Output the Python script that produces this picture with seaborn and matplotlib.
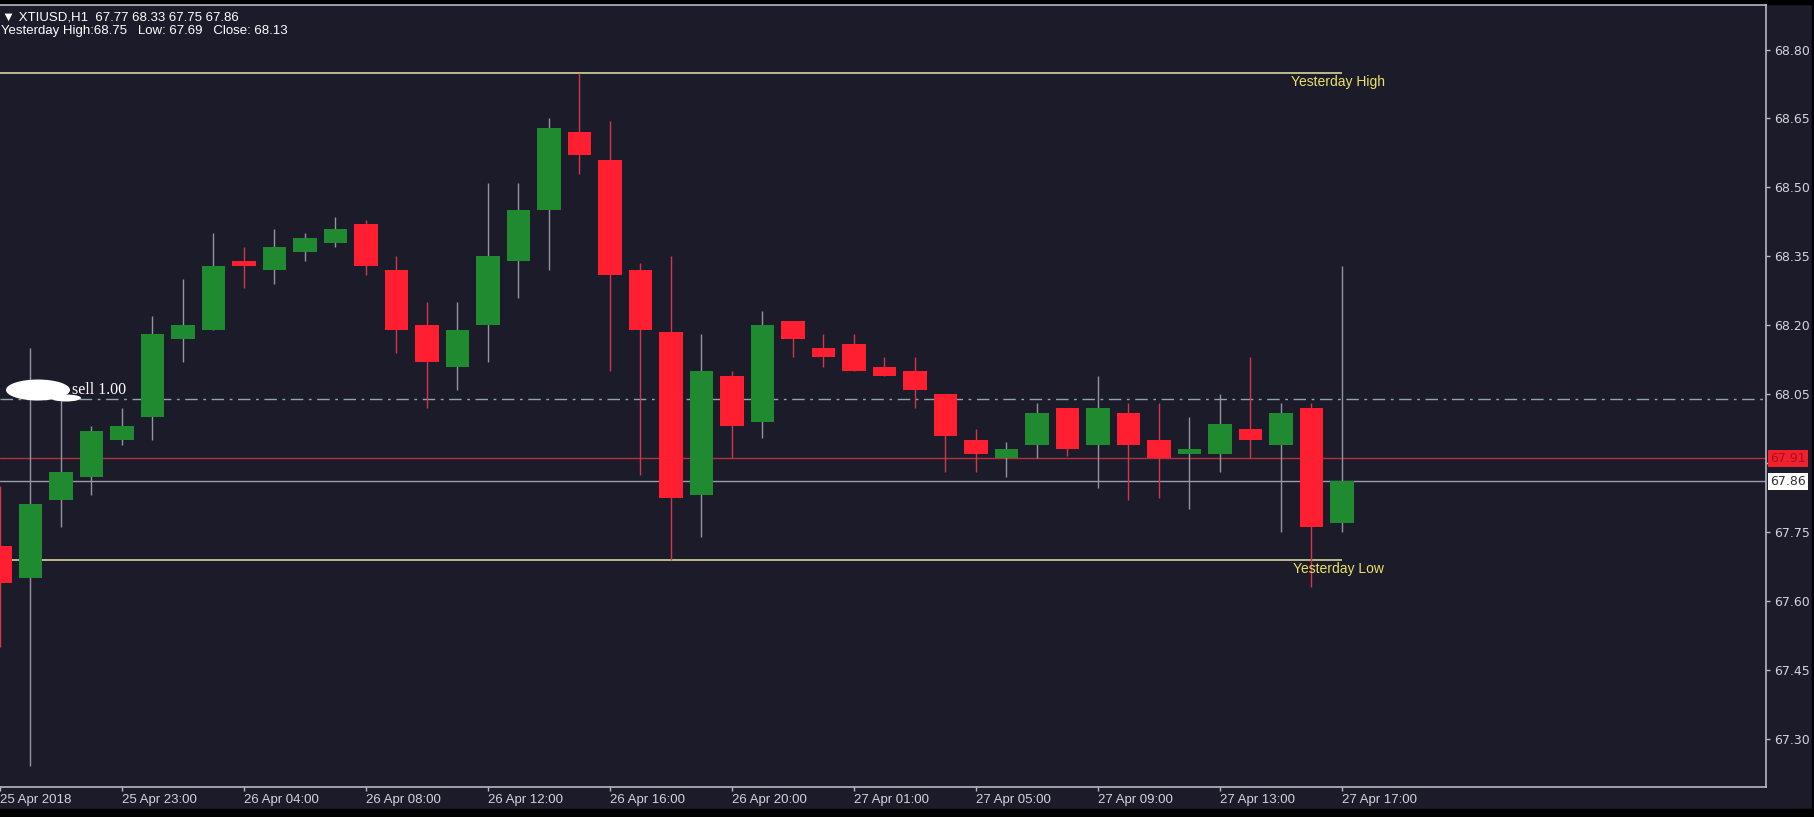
import numpy as np
import pandas as pd
import matplotlib
matplotlib.use("Agg")
import matplotlib.pyplot as plt
import matplotlib.transforms as mtransforms
from matplotlib.patches import Ellipse, Rectangle
import seaborn as sns

# ---------------- data ----------------
bar_labels = ["25 Apr 2018", "25 Apr 20:00", "25 Apr 21:00", "25 Apr 22:00", "25 Apr 23:00",
              "26 Apr 01:00", "26 Apr 02:00", "26 Apr 03:00", "26 Apr 04:00", "26 Apr 05:00",
              "26 Apr 06:00", "26 Apr 07:00", "26 Apr 08:00", "26 Apr 09:00", "26 Apr 10:00",
              "26 Apr 11:00", "26 Apr 12:00", "26 Apr 13:00", "26 Apr 14:00", "26 Apr 15:00",
              "26 Apr 16:00", "26 Apr 17:00", "26 Apr 18:00", "26 Apr 19:00", "26 Apr 20:00",
              "26 Apr 21:00", "26 Apr 22:00", "26 Apr 23:00", "27 Apr 01:00", "27 Apr 02:00",
              "27 Apr 03:00", "27 Apr 04:00", "27 Apr 05:00", "27 Apr 06:00", "27 Apr 07:00",
              "27 Apr 08:00", "27 Apr 09:00", "27 Apr 10:00", "27 Apr 11:00", "27 Apr 12:00",
              "27 Apr 13:00", "27 Apr 14:00", "27 Apr 15:00", "27 Apr 16:00", "27 Apr 17:00"]

opens = [67.72, 67.65, 67.82, 67.87, 67.95, 68.00, 68.17, 68.19, 68.34, 68.32,
         68.36, 68.38, 68.42, 68.32, 68.20, 68.11, 68.20, 68.34, 68.45, 68.62,
         68.56, 68.32, 68.185, 67.83, 68.09, 67.99, 68.21, 68.15, 68.16, 68.11,
         68.10, 68.05, 67.95, 67.91, 67.94, 68.02, 67.94, 68.01, 67.95, 67.92,
         67.92, 67.975, 67.94, 68.02, 67.77]
highs = [67.85, 68.15, 68.04, 67.98, 68.02, 68.22, 68.30, 68.40, 68.37, 68.41,
         68.40, 68.435, 68.43, 68.35, 68.25, 68.25, 68.51, 68.51, 68.65, 68.75,
         68.645, 68.335, 68.35, 68.18, 68.10, 68.23, 68.21, 68.18, 68.18, 68.13,
         68.13, 68.05, 67.975, 67.945, 68.03, 68.02, 68.09, 68.03, 68.03, 68.00,
         68.05, 68.13, 68.03, 68.03, 68.33]
lows = [67.50, 67.24, 67.76, 67.83, 67.94, 67.95, 68.12, 68.19, 68.28, 68.29,
        68.34, 68.37, 68.31, 68.14, 68.02, 68.06, 68.12, 68.26, 68.32, 68.53,
        68.10, 67.875, 67.69, 67.74, 67.91, 67.955, 68.13, 68.11, 68.10, 68.09,
        68.02, 67.88, 67.88, 67.87, 67.91, 67.915, 67.845, 67.82, 67.825, 67.80,
        67.88, 67.91, 67.75, 67.63, 67.75]
closes = [67.64, 67.81, 67.88, 67.97, 67.98, 68.18, 68.20, 68.33, 68.33, 68.37,
          68.39, 68.41, 68.33, 68.19, 68.12, 68.19, 68.35, 68.45, 68.63, 68.57,
          68.31, 68.19, 67.825, 68.10, 67.98, 68.20, 68.17, 68.13, 68.10, 68.09,
          68.06, 67.96, 67.92, 67.93, 68.01, 67.93, 68.02, 67.94, 67.91, 67.93,
          67.985, 67.95, 68.01, 67.76, 67.86]

price_ticks = [68.80, 68.65, 68.50, 68.35, 68.20, 68.05, 67.90, 67.75, 67.60, 67.45, 67.30]
hidden_tick = 67.90  # covered by the ask tag in the reference

yesterday_high = 68.75
yesterday_low = 67.69
yesterday_close = 68.13
order_price = 68.04
ask_price = 67.91
bid_price = 67.86
header_line1 = "\u25bc XTIUSD,H1  67.77 68.33 67.75 67.86"
header_line2 = "Yesterday High:68.75   Low: 67.69   Close: 68.13"
order_label = "sell 1.00"

# ---------------- style ----------------
BG = "#1b1b2a"
GREEN = "#1f8a30"
RED = "#ff1f30"
WICK_UP = "#9494a0"
WICK_DN = "#d0384a"
YLINE = "#d8d69c"
YTEXT = "#ece268"
AXC = "#b8b8c2"
TXT = "#d4d4dc"

sns.set_theme(style="dark", rc={"axes.facecolor": BG, "figure.facecolor": BG,
                                "axes.edgecolor": AXC, "grid.color": BG})
plt.rcParams['font.family'] = ['Liberation Sans', 'DejaVu Sans']

W, H = 1815, 817
fig = plt.figure(figsize=(W / 100, H / 100), dpi=100)
ax = fig.add_axes([0, 1 - 787 / H, 1766 / W, 782 / H])
ax.set_facecolor(BG)

df = pd.DataFrame({"label": bar_labels, "open": opens, "high": highs,
                   "low": lows, "close": closes})
df["x"] = np.arange(len(df))
df["up"] = df["close"] >= df["open"]

# reference lines (behind candles)
ax.axhline(order_price, color="#8ea6aa", lw=1.0, ls=(0, (9, 4, 2, 4)), zorder=1)
ax.axhline(ask_price, color="#b3303e", lw=1.0, zorder=1)
ax.axhline(bid_price, color="#9c9cac", lw=1.0, zorder=1)
last_x = df["x"].iloc[-1]
ax.hlines([yesterday_high, yesterday_low], 0, last_x, color=YLINE, lw=1.2, zorder=1)

# candles
for _, r in df.iterrows():
    ax.vlines(r.x, r.low, r.high, color=WICK_UP if r.up else WICK_DN, lw=1.0, zorder=2)
body_bottom = np.minimum(df["open"], df["close"])
body_height = np.maximum((df["close"] - df["open"]).abs(), 0.006)
ax.bar(df["x"], body_height, bottom=body_bottom, width=0.78,
       color=np.where(df["up"], GREEN, RED), linewidth=0, zorder=3)

ax.set_xlim(0, 1766 / 30.5)
ax.set_ylim(67.195, 68.897)

# labels of yesterday lines
ax.text(42.33, yesterday_high - 0.005, "Yesterday High", color=YTEXT, fontsize=10,
        ha="left", va="top", zorder=4)
ax.text(42.40, yesterday_low - 0.005, "Yesterday Low", color=YTEXT, fontsize=10,
        ha="left", va="top", zorder=4)

# order label with white scribble
ax.text(2.35, order_price + 0.018, order_label, color="white", fontsize=11.5,
        family=["Liberation Serif", "DejaVu Serif"], ha="left", va="center", zorder=5)
fig.add_artist(Ellipse((38 / W, 1 - 390 / H), 64 / W, 21 / H, transform=fig.transFigure,
                       facecolor="white", edgecolor="none", zorder=6))
fig.add_artist(Ellipse((66 / W, 1 - 398 / H), 30 / W, 7 / H, transform=fig.transFigure,
                       facecolor="white", edgecolor="none", zorder=6))

# axes styling
ax.spines["left"].set_visible(False)
for s in ["top", "right", "bottom"]:
    ax.spines[s].set_color(AXC)
    ax.spines[s].set_linewidth(1.2)
ax.grid(False)

ax.yaxis.tick_right()
ax.set_yticks(price_ticks)
ax.set_yticklabels(["" if abs(v - hidden_tick) < 1e-9 else f"{v:.2f}" for v in price_ticks],
                   family="DejaVu Sans")
ax.tick_params(axis="y", length=3, width=1, color=AXC, pad=3, labelsize=9, labelcolor=TXT,
               right=True, left=False)

tick_idx = df["x"].iloc[::4]
ax.set_xticks(tick_idx)
ax.set_xticklabels(df["label"].iloc[::4])
ax.tick_params(axis="x", length=3, width=1, color=AXC, pad=2, labelsize=9.5, labelcolor=TXT,
               bottom=True)
for lab in ax.get_xticklabels():
    lab.set_ha("left")

# price tags
trans = mtransforms.blended_transform_factory(ax.transAxes, ax.transData)
ax.text(1.0025, ask_price, f"{ask_price:.2f}", transform=trans, fontsize=9,
        family="DejaVu Sans", color="#a8101e", ha="left", va="center", clip_on=False,
        zorder=10, bbox=dict(boxstyle="square,pad=0.18", facecolor="#f0202e", edgecolor="none"))
ax.text(1.0025, bid_price, f"{bid_price:.2f}", transform=trans, fontsize=9,
        family="DejaVu Sans", color="#30303c", ha="left", va="center", clip_on=False,
        zorder=10, bbox=dict(boxstyle="square,pad=0.18", facecolor="white", edgecolor="none"))

# header
fig.text(2 / W, 1 - 18 / H, header_line1, color="white", fontsize=9.5, ha="left", va="center")
fig.text(1 / W, 1 - 31 / H, header_line2, color="white", fontsize=9.5, ha="left", va="center")

# black bands of the screenshot
fig.add_artist(Rectangle((0, 0), 1, 8 / H, transform=fig.transFigure, color="black", zorder=0))
fig.add_artist(Rectangle((0, 1 - 4 / H), 1, 4 / H, transform=fig.transFigure, color="black", zorder=0))
fig.add_artist(Rectangle((1812 / W, 0), 3 / W, 1, transform=fig.transFigure, color="black", zorder=0))

fig.savefig("out.png", dpi=100, facecolor=BG)
